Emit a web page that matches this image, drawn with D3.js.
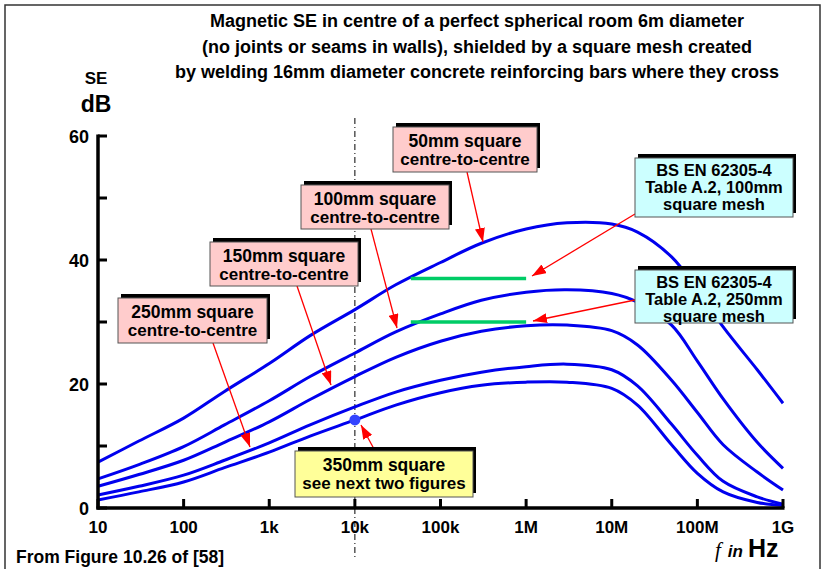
<!DOCTYPE html>
<html>
<head>
<meta charset="utf-8">
<script src="https://cdn.jsdelivr.net/npm/d3@7"></script>
<style>
  body { margin: 0; background: #fff; }
  text { font-family: Arial, "Liberation Sans", sans-serif; font-weight: bold; fill: #000; }
</style>
</head>
<body>
<div id="chart"></div>
<script>
// chart data (f in Hz, SE in dB)
var freqs = [10, 30, 100, 300, 1e3, 3e3, 1e4, 3e4, 1e5, 3e5, 1e6, 3e6, 1e7, 2e7, 5e7, 1e8, 2e8, 5e8, 1e9];
var se50  = [7.4, 10.8, 14.5, 18.8, 23.3, 27.8, 32.0, 36.0, 39.6, 42.7, 45.0, 46.0, 45.8, 44.5, 40.5, 35.2, 29.2, 22.3, 16.9];
var se100 = [4.7, 7.0, 9.9, 13.4, 17.3, 21.2, 25.0, 28.4, 31.3, 33.5, 34.8, 35.2, 34.6, 33.2, 29.5, 23.7, 17.6, 10.6, 6.4];
var se150 = [3.5, 5.4, 7.7, 10.6, 13.9, 17.5, 21.2, 24.3, 26.9, 28.5, 29.4, 29.5, 28.6, 26.3, 20.6, 15.4, 10.2, 5.8, 2.9];
var se250 = [2.1, 3.5, 5.3, 7.7, 10.5, 13.4, 16.3, 18.7, 20.6, 21.9, 22.8, 23.2, 22.3, 19.7, 13.5, 8.5, 4.3, 1.8, 0.6];
var se350 = [1.3, 2.6, 4.2, 6.5, 9.0, 11.6, 14.2, 16.6, 18.6, 19.8, 20.3, 20.3, 19.3, 16.6, 10.2, 5.6, 2.6, 0.9, 0.4];
var series = [se50, se100, se150, se250, se350];

// BS EN 62305-4 Table A.2 values (green bars)
var bsLevels = [37, 30];
var bsRange = [45e3, 1e6];

// point marked on the 350mm curve
var dotPoint = { f: 1e4, se: 14.2 };

var xTicks = [10, 100, 1e3, 1e4, 1e5, 1e6, 1e7, 1e8, 1e9];
var xTickLabels = ["10", "100", "1k", "10k", "100k", "1M", "10M", "100M", "1G"];
var yTicks = [0, 10, 20, 30, 40, 50, 60];
var yTickLabels = [0, 20, 40, 60];

var titleLines = [
  "Magnetic SE in centre of a perfect spherical room 6m diameter",
  "(no joints or seams in walls), shielded by a square mesh created",
  "by welding 16mm diameter concrete reinforcing bars where they cross"
];

var W = 822, H = 569;
var x = d3.scaleLog().domain([10, 1e9]).range([98, 783]);
var y = d3.scaleLinear().domain([0, 60]).range([508, 136]);

var svg = d3.select("#chart").append("svg")
  .attr("width", W)
  .attr("height", H);

var defs = svg.append("defs");
defs.append("marker")
  .attr("id", "arrow")
  .attr("viewBox", "0 0 14 10")
  .attr("refX", 14)
  .attr("refY", 5)
  .attr("markerWidth", 14)
  .attr("markerHeight", 10)
  .attr("markerUnits", "userSpaceOnUse")
  .attr("orient", "auto")
  .append("path")
  .attr("d", "M0,0 L14,5 L0,10 Z")
  .attr("fill", "#ff0000");

// outer frame
svg.append("rect")
  .attr("x", 5).attr("y", 5)
  .attr("width", 815).attr("height", 580)
  .attr("fill", "none")
  .attr("stroke", "#333")
  .attr("stroke-width", 1.5);

// title
svg.append("g").selectAll("text")
  .data(titleLines)
  .enter().append("text")
  .attr("x", 477)
  .attr("y", function(d, i) { return 27 + i * 25.5; })
  .attr("text-anchor", "middle")
  .style("font-size", "18px")
  .text(function(d) { return d; });

// y axis label
svg.append("text").attr("x", 96).attr("y", 84).attr("text-anchor", "middle")
  .style("font-size", "17px").text("SE");
svg.append("text").attr("x", 96).attr("y", 112).attr("text-anchor", "middle")
  .style("font-size", "23px").text("dB");

// 10kHz dash-dot marker line
svg.append("line")
  .attr("x1", x(1e4)).attr("x2", x(1e4))
  .attr("y1", 118).attr("y2", 557)
  .attr("stroke", "#000")
  .attr("stroke-width", 1)
  .attr("stroke-dasharray", "6,3,1,3");

// curves
var line = d3.line()
  .x(function(d, i) { return x(freqs[i]); })
  .y(function(d) { return y(d); })
  .curve(d3.curveCatmullRom.alpha(0.5));

svg.append("g").selectAll("path")
  .data(series)
  .enter().append("path")
  .attr("d", line)
  .attr("fill", "none")
  .attr("stroke", "#0000ee")
  .attr("stroke-width", 3);

// green BS EN bars
svg.append("g").selectAll("line")
  .data(bsLevels)
  .enter().append("line")
  .attr("x1", x(bsRange[0])).attr("x2", x(bsRange[1]))
  .attr("y1", function(d) { return y(d); })
  .attr("y2", function(d) { return y(d); })
  .attr("stroke", "#00cc66")
  .attr("stroke-width", 3.5);

// blue dot at 10k on 350mm curve
svg.append("circle")
  .attr("cx", x(dotPoint.f)).attr("cy", y(dotPoint.se))
  .attr("r", 5.5)
  .attr("fill", "#3344ff");

// axes
svg.append("g").selectAll("line")
  .data(xTicks)
  .enter().append("line")
  .attr("x1", function(d) { return x(d); })
  .attr("x2", function(d) { return x(d); })
  .attr("y1", 508).attr("y2", 499)
  .attr("stroke", "#000").attr("stroke-width", 3);

svg.append("g").selectAll("line")
  .data(yTicks)
  .enter().append("line")
  .attr("x1", 98).attr("x2", 107)
  .attr("y1", function(d) { return y(d); })
  .attr("y2", function(d) { return y(d); })
  .attr("stroke", "#000").attr("stroke-width", 3);

svg.append("line")
  .attr("x1", 96.5).attr("x2", 784.5)
  .attr("y1", 508).attr("y2", 508)
  .attr("stroke", "#000").attr("stroke-width", 3.5);
svg.append("line")
  .attr("x1", 98).attr("x2", 98)
  .attr("y1", 134.5).attr("y2", 509.5)
  .attr("stroke", "#000").attr("stroke-width", 3.5);

svg.append("g").selectAll("text")
  .data(xTicks)
  .enter().append("text")
  .attr("x", function(d) { return x(d); })
  .attr("y", 533)
  .attr("text-anchor", "middle")
  .style("font-size", "17px")
  .text(function(d, i) { return xTickLabels[i]; });

svg.append("g").selectAll("text")
  .data(yTickLabels)
  .enter().append("text")
  .attr("x", 89)
  .attr("y", function(d) { return y(d) + 6.5; })
  .attr("text-anchor", "end")
  .style("font-size", "18px")
  .text(function(d) { return d; });

// x axis label: f in Hz
var xl = svg.append("text").attr("x", 715).attr("y", 557);
xl.append("tspan").style("font-family", "'Liberation Serif', 'Times New Roman', serif")
  .style("font-style", "italic").style("font-weight", "normal").style("font-size", "21px").text("f");
xl.append("tspan").attr("dx", 7).style("font-style", "italic").style("font-size", "17px").text("in");
xl.append("tspan").attr("dx", 5).style("font-size", "25px").text("Hz");

svg.append("text").attr("x", 16).attr("y", 563)
  .style("font-size", "17.5px").text("From Figure 10.26 of [58]");

// annotation boxes
var notes = [
  { lines: ["50mm square", "centre-to-centre"], box: [393, 127, 144, 45], fill: "#ffcccc", from: [467, 172], to: [483, 242] },
  { lines: ["100mm square", "centre-to-centre"], box: [301, 185, 148, 44], fill: "#ffcccc", from: [371, 229], to: [397, 328] },
  { lines: ["150mm square", "centre-to-centre"], box: [210, 242, 148, 44], fill: "#ffcccc", from: [297, 286], to: [331, 385] },
  { lines: ["250mm square", "centre-to-centre"], box: [118, 298, 149, 45], fill: "#ffcccc", from: [213, 343], to: [250, 447] },
  { lines: ["350mm square", "see next two figures"], box: [295, 451, 178, 46], fill: "#ffff99", from: [374, 449], to: [361, 425] },
  { lines: ["BS EN 62305-4", "Table A.2, 100mm", "square mesh"], box: [635, 158, 158, 59], fill: "#ccffff", from: [635, 214], to: [532, 276] },
  { lines: ["BS EN 62305-4", "Table A.2, 250mm", "square mesh"], box: [635, 270, 158, 53], fill: "#ccffff", from: [635, 300], to: [533, 321] }
];

notes.forEach(function(n) {
  var b = n.box;
  svg.append("line")
    .attr("x1", n.from[0]).attr("y1", n.from[1])
    .attr("x2", n.to[0]).attr("y2", n.to[1])
    .attr("stroke", "#ff0000").attr("stroke-width", 1.3)
    .attr("marker-end", "url(#arrow)");
  svg.append("rect")
    .attr("x", b[0] + 3).attr("y", b[1] - 4)
    .attr("width", b[2]).attr("height", b[3])
    .attr("fill", "#000");
  svg.append("rect")
    .attr("x", b[0]).attr("y", b[1])
    .attr("width", b[2]).attr("height", b[3])
    .attr("fill", n.fill)
    .attr("stroke", "#555").attr("stroke-width", 1);
  var three = n.lines.length === 3;
  var step = three ? 17 : 18;
  var top = b[1] + (three ? 18 : 20);
  n.lines.forEach(function(t, i) {
    svg.append("text")
      .attr("x", b[0] + b[2] / 2)
      .attr("y", top + i * step)
      .attr("text-anchor", "middle")
      .style("font-size", three ? "16.5px" : (i === 0 ? "17.5px" : "17px"))
      .text(t);
  });
});
</script>
</body>
</html>
